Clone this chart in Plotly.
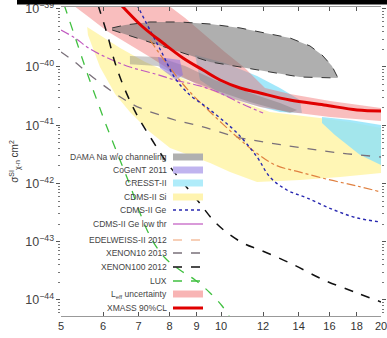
import plotly.graph_objects as go

# ---------------- data: WIMP mass [GeV] and SI cross-section [cm^2] ----------------
mass_ticks = [5, 6, 7, 8, 9, 10, 12, 14, 16, 18, 20]

# XMASS 90% CL limit
xmass_m = [6.40, 6.54, 7.13, 7.78, 8.48, 9.25, 9.96, 10.86, 11.84, 13.48, 15.62, 18.03, 20.0]
xmass_s = [1.31e-39, 1.07e-39, 4.86e-40, 2.58e-40, 1.43e-40, 8.87e-41, 5.98e-41, 4.36e-41,
           3.58e-41, 2.71e-41, 2.23e-41, 1.83e-41, 1.76e-41]

# L_eff uncertainty band
leff_up_m = [7.85, 8.56, 9.33, 10.17, 11.09, 12.10, 13.48, 16.04, 20.0]
leff_up_s = [1.26e-39, 6.93e-40, 3.54e-40, 1.81e-40, 9.62e-41, 4.36e-41, 3.44e-41, 2.61e-41, 1.98e-41]
leff_lo_m = [5.20, 5.31, 5.67, 6.10, 6.60, 7.35, 8.19, 9.13, 10.40, 11.84, 13.48, 16.04, 20.0]
leff_lo_s = [1.26e-39, 1.07e-39, 6.93e-40, 4.15e-40, 2.69e-40, 1.49e-40, 7.89e-41, 4.72e-41,
             2.94e-41, 2.06e-41, 1.69e-41, 1.39e-41, 1.18e-41]

# DAMA Na w/o channeling (main region)
dama_up_m = [6.24, 6.60, 7.35, 8.37, 9.54, 10.86, 11.84, 13.48, 14.7, 15.49, 16.17, 16.60]
dama_up_s = [4.68e-40, 5.26e-40, 5.93e-40, 5.93e-40, 5.47e-40, 4.68e-40, 3.99e-40, 3.15e-40,
             2.30e-40, 1.61e-40, 1.04e-40, 6.47e-41]
dama_lo_m = [6.24, 6.60, 7.35, 8.37, 9.54, 10.86, 12.36, 14.08, 16.60]
dama_lo_s = [4.32e-40, 3.69e-40, 2.69e-40, 1.81e-40, 1.22e-40, 1.0e-40, 8.20e-41, 6.73e-41, 6.47e-41]

# DAMA secondary strip
dama2_up_m = [6.74, 7.61, 8.56, 9.74, 11.34, 12.91, 13.90]
dama2_up_s = [1.55e-40, 1.49e-40, 1.04e-40, 5.98e-41, 3.58e-41, 2.41e-41, 1.83e-41]
dama2_lo_m = [6.74, 7.61, 8.37, 9.74, 11.34, 13.48]
dama2_lo_s = [1.12e-40, 1.04e-40, 6.73e-41, 4.03e-41, 2.51e-41, 1.62e-41]

# CoGeNT 2011 region
cogent_m = [7.61, 8.37, 8.48, 8.23, 7.68]
cogent_s = [1.49e-40, 1.32e-40, 7.29e-41, 5.98e-41, 9.62e-41]

# CRESST-II regions
cresst1_m = [8.94, 10.17, 11.69, 12.91, 14.08, 14.2, 12.91, 11.34, 10.05, 9.13]
cresst1_s = [1.61e-40, 1.17e-40, 7.0e-41, 4.36e-41, 2.71e-41, 1.62e-41, 1.69e-41, 2.32e-41,
             3.30e-41, 5.98e-41]
cresst2_m = [15.49, 17.49, 20.0, 20.0, 18.27, 16.38, 15.49]
cresst2_s = [1.39e-41, 1.23e-41, 1.01e-41, 2.08e-42, 3.08e-42, 6.81e-42, 1.09e-41]

# CDMS-II Si region
si_up_m = [5.60, 5.92, 6.46, 7.20, 8.02, 8.94, 9.96, 11.09, 12.36, 14.08, 15.35, 17.49, 20.0]
si_up_s = [4.86e-40, 3.54e-40, 2.12e-40, 1.22e-40, 7.89e-41, 5.11e-41, 3.58e-41, 2.41e-41,
           1.69e-41, 1.44e-41, 1.33e-41, 1.14e-41, 8.97e-42]
si_lo_m = [5.62, 5.92, 6.32, 6.74, 7.35, 8.02, 9.54, 10.40, 11.69, 14.08, 16.75, 20.0]
si_lo_s = [3.54e-40, 1.0e-40, 3.44e-41, 1.69e-41, 7.66e-42, 4.06e-42, 2.25e-42, 1.57e-42,
           1.06e-42, 1.15e-42, 1.29e-42, 1.51e-42]

# CDMS-II Ge
ge_m = [6.95, 7.35, 7.78, 8.19, 8.74, 9.33, 9.96, 10.72, 11.69, 12.36, 13.30, 14.51, 16.31, 18.03, 20.0]
ge_s = [1.16e-39, 4.32e-40, 1.61e-40, 6.47e-41, 3.30e-41, 2.14e-41, 1.33e-41, 7.36e-42, 2.85e-42,
        1.29e-42, 7.73e-43, 5.64e-43, 3.51e-43, 2.56e-43, 2.18e-43]

# CDMS-II Ge low threshold
gelow_m = [5.0, 5.31, 5.67, 6.18, 6.74, 7.52, 8.19, 9.13, 9.96, 10.86, 12.0]
gelow_s = [4.32e-40, 3.15e-40, 2.04e-40, 1.37e-40, 1.0e-40, 7.59e-41, 5.98e-41, 4.72e-41,
           3.58e-41, 2.41e-41, 1.62e-41]

# EDELWEISS-II 2012
edel_m = [7.35, 8.02, 8.74, 9.54, 10.72, 11.59, 12.64, 14.08, 16.04, 18.03, 20.0]
edel_s = [2.91e-40, 9.62e-41, 3.72e-41, 1.69e-41, 6.28e-42, 3.48e-42, 2.08e-42, 1.57e-42,
          1.15e-42, 9.06e-43, 7.14e-43]

# XENON10 2013
x10_m = [5.0, 5.31, 5.67, 6.18, 6.60, 7.04, 7.68, 8.19, 9.13, 10.72, 12.36, 14.27, 16.75, 20.0]
x10_s = [1.81e-40, 1.22e-40, 7.29e-41, 4.03e-41, 2.71e-41, 1.98e-41, 1.50e-41, 1.23e-41,
         9.70e-42, 6.28e-42, 4.95e-42, 4.06e-42, 3.34e-42, 2.85e-42]

# XENON100 2012
x100_m = [5.87, 6.13, 6.32, 6.60, 6.98, 7.42, 7.92, 9.02, 9.74, 10.40, 11.09, 11.84, 13.48, 15.62, 18.03, 20.0]
x100_s = [1.16e-39, 3.27e-40, 1.17e-40, 4.03e-41, 1.39e-41, 5.58e-42, 2.25e-42, 5.21e-43,
          2.18e-43, 1.31e-43, 9.14e-44, 7.21e-44, 4.32e-44, 2.20e-44, 1.32e-44, 9.25e-45]

# LUX
lux_m = [5.07, 5.13, 5.36, 5.60, 5.84, 6.10, 6.40, 6.74, 7.04, 7.42, 7.85, 8.37, 8.94, 9.54, 10.05, 10.40]
lux_s = [1.16e-39, 8.45e-40, 2.58e-40, 7.89e-41, 2.71e-41, 9.33e-42, 3.08e-42, 9.42e-43,
         3.12e-43, 1.07e-43, 5.26e-44, 3.27e-44, 2.20e-44, 1.32e-44, 7.89e-45, 4.91e-45]

legend_labels = ["DAMA Na w/o channeling", "CoGeNT 2011", "CRESST-II", "CDMS-II Si",
                 "CDMS-II Ge", "CDMS-II Ge low thr", "EDELWEISS-II 2012", "XENON10 2013",
                 "XENON100 2012", "LUX", "L<sub>eff</sub> uncertainty", "XMASS 90%CL"]

# ---------------- styling ----------------
W, H = 387, 338
ML, MR, MT, MB = 61, 6, 7, 22
PW, PH = W - ML - MR, H - MT - MB


def pxx(px):
    return (px - ML) / PW


def pxy(py):
    return (H - MB - py) / PH


C_DAMA = "rgba(110,110,110,0.55)"
C_COGENT = "rgba(140,110,225,0.55)"
C_CRESST = "rgba(140,226,250,0.8)"
C_SI = "rgba(255,238,120,0.55)"
C_LEFF = "rgba(240,100,100,0.42)"

fig = go.Figure()


def add_poly(xs, ys, color, line=None):
    fig.add_trace(go.Scatter(x=xs, y=ys, fill="toself", fillcolor=color, mode="lines",
                             line=line or dict(width=0, color=color), hoverinfo="skip",
                             showlegend=False))


def band(mu, su, ml, sl):
    return list(mu) + list(ml)[::-1], list(su) + list(sl)[::-1]


add_poly(*band(si_up_m, si_up_s, si_lo_m, si_lo_s), C_SI)
add_poly(cresst1_m, cresst1_s, C_CRESST)
add_poly(cresst2_m, cresst2_s, C_CRESST)
add_poly(*band(leff_up_m, leff_up_s, leff_lo_m, leff_lo_s), C_LEFF)
add_poly(*band(dama2_up_m, dama2_up_s, dama2_lo_m, dama2_lo_s), "rgba(110,110,110,0.35)")
add_poly(*band(dama_up_m, dama_up_s, dama_lo_m, dama_lo_s), C_DAMA,
         line=dict(color="#333333", width=1, dash="dash"))
add_poly(cogent_m, cogent_s, C_COGENT)

LINES = [
    (x10_m, x10_s, dict(color="#7a707a", width=1.3, dash="dash")),
    (edel_m, edel_s, dict(color="#e08040", width=1.2, dash="dashdot")),
    (gelow_m, gelow_s, dict(color="#c058c0", width=1.2, dash="dashdot")),
    (ge_m, ge_s, dict(color="#2828b0", width=1.4, dash="dot")),
    (x100_m, x100_s, dict(color="#111111", width=1.5, dash="dash")),
    (lux_m, lux_s, dict(color="#40c040", width=1.3, dash="dash")),
    (xmass_m, xmass_s, dict(color="#e00000", width=3)),
]
for xs, ys, ln in LINES:
    fig.add_trace(go.Scatter(x=xs, y=ys, mode="lines", line=ln, hoverinfo="skip",
                             showlegend=False, line_shape="spline"))

# ---------------- custom legend (text left of swatch) ----------------
rows_py = [157, 170, 183, 197, 210, 224, 240, 253, 267, 281, 294, 308]
swatches = [
    ("rect", "#b0b0b0"), ("rect", "#c0b4ef"), ("rect", "#b0ecfa"), ("rect", "#fff4b0"),
    ("line", dict(color="#2828b0", width=1.4, dash="dot")),
    ("line", dict(color="#c058c0", width=1.2)),
    ("line", dict(color="#f0a070", width=1.2, dash="dash")),
    ("line", dict(color="#7a707a", width=1.3, dash="dash")),
    ("line", dict(color="#111111", width=1.5, dash="dash")),
    ("line", dict(color="#40c040", width=1.3, dash="dash")),
    ("rect", "#f8b4b4"),
    ("line", dict(color="#e00000", width=3)),
]
annotations = []
shapes = []
for lab, py, (kind, sty) in zip(legend_labels, rows_py, swatches):
    annotations.append(dict(x=pxx(169), y=pxy(py), xref="paper", yref="paper", text=lab,
                            showarrow=False, xanchor="right", yanchor="middle",
                            font=dict(size=8.5, color="#444444", family="Liberation Sans")))
    if kind == "rect":
        shapes.append(dict(type="rect", xref="paper", yref="paper", x0=pxx(173), x1=pxx(203),
                           y0=pxy(py + 3.5), y1=pxy(py - 3.5), fillcolor=sty,
                           line=dict(width=0), layer="above"))
    else:
        shapes.append(dict(type="line", xref="paper", yref="paper", x0=pxx(173), x1=pxx(203),
                           y0=pxy(py), y1=pxy(py), line=sty, layer="above"))

# black scan bar across the top
shapes.append(dict(type="rect", xref="paper", yref="paper", x0=pxx(17), x1=pxx(390),
                   y0=pxy(4.5), y1=pxy(-2), fillcolor="#000000", line=dict(width=0),
                   layer="above"))

fig.update_layout(
    width=W, height=H, margin=dict(l=ML, r=MR, t=MT, b=MB, autoexpand=False),
    paper_bgcolor="white", plot_bgcolor="white",
    showlegend=False, annotations=annotations, shapes=shapes,
    font=dict(family="Liberation Sans", color="#444444"),
)
fig.update_xaxes(type="log", range=[0.69897, 1.30103], tickvals=mass_ticks,
                 ticktext=[str(t) for t in mass_ticks], ticks="inside", ticklen=4,
                 tickcolor="#555555", showline=True, linecolor="#999999", linewidth=1,
                 mirror="ticks", showgrid=False, zeroline=False, automargin=False,
                 ticklabeloverflow="allow",
                 tickfont=dict(size=11, color="#333333"))
fig.update_yaxes(type="log", range=[-44.275, -38.970], dtick=1, exponentformat="power",
                 ticks="outside", ticklen=4, tickcolor="#555555", showline=False,
                 mirror="ticks", showgrid=False, zeroline=False, automargin=False,
                 ticklabeloverflow="allow",
                 minor=dict(ticks="outside", ticklen=2, tickcolor="#777777", showgrid=False),
                 tickfont=dict(size=10, color="#444444"),
                 title=dict(text="σ<sup>SI</sup><sub>χ-n</sub> cm<sup>2</sup>",
                            font=dict(size=10, color="#333333"), standoff=4))

fig.write_html("out.html", config={"displayModeBar": False})

# remove the browser's default page margin so the figure sits at the window origin
with open("out.html", "r", encoding="utf-8") as f:
    html = f.read()
html = html.replace("<head>", "<head><style>html,body{margin:0;padding:0;overflow:hidden}</style>", 1)
with open("out.html", "w", encoding="utf-8") as f:
    f.write(html)
